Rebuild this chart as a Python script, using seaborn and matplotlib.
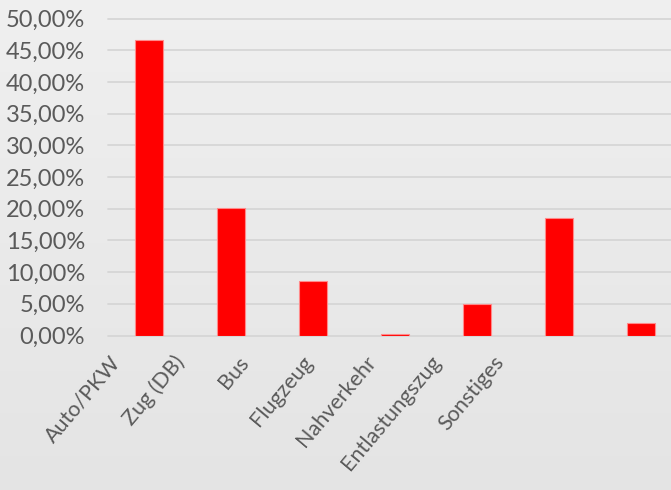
import numpy as np
import pandas as pd
import matplotlib
matplotlib.use("Agg")
import matplotlib.pyplot as plt
from matplotlib.ticker import FuncFormatter, MultipleLocator
from matplotlib.transforms import ScaledTranslation
import seaborn as sns

# Anteil der Verkehrsmittel
categories = ["Auto/PKW", "Zug (DB)", "Bus", "Flugzeug", "Nahverkehr", "Entlastungszug", "Sonstiges"]
shares = [0.466, 0.201, 0.086, 0.002, 0.049, 0.186, 0.019]

df = pd.DataFrame({"Verkehrsmittel": categories, "Anteil": shares})

sns.set_theme(style="white")
plt.rcParams["font.family"] = ["Lato", "DejaVu Sans"]

DPI = 100
fig = plt.figure(figsize=(6.71, 4.90), dpi=DPI)

# soft vertical gradient background
bg = fig.add_axes([0, 0, 1, 1], zorder=-10)
grad = np.linspace(0.94, 0.895, 256).reshape(-1, 1)
bg.imshow(np.dstack([grad, grad, grad]), aspect="auto", extent=[0, 1, 0, 1])
bg.axis("off")

ax = fig.add_axes([108 / 671, 154.5 / 490, 574 / 671, 317 / 490])
ax.patch.set_alpha(0)

sns.barplot(data=df, x="Verkehrsmittel", y="Anteil", color="#ff0000",
            saturation=1, width=0.34, edgecolor="#ff8a8a", linewidth=0.8, ax=ax)

ax.set_ylim(0, 0.5)
ax.yaxis.set_major_locator(MultipleLocator(0.05))
ax.yaxis.set_major_formatter(FuncFormatter(lambda v, _: f"{v * 100:.2f}%".replace(".", ",")))
ax.grid(axis="y", color="#d6d6d6", linewidth=1.3)
ax.set_axisbelow(True)
for gl in ax.get_ygridlines():
    gl.set_clip_on(False)
for s in ax.spines.values():
    s.set_visible(False)
ax.set_xlabel("")
ax.set_ylabel("")

label_color = "#5a5a5a"
ax.tick_params(axis="y", length=0, pad=16.5, labelsize=17, labelcolor=label_color)
ax.tick_params(axis="x", length=0, pad=12, labelsize=15.5, labelcolor=label_color)

for i, lab in enumerate(ax.get_xticklabels()):
    lab.set_rotation(50)
    lab.set_rotation_mode("anchor")
    lab.set_ha("right")
    lab.set_va("top")
    shift = -(40 + 18 * i) / DPI
    lab.set_transform(lab.get_transform() + ScaledTranslation(shift, 0, fig.dpi_scale_trans))

fig.savefig("out.png", dpi=DPI)
